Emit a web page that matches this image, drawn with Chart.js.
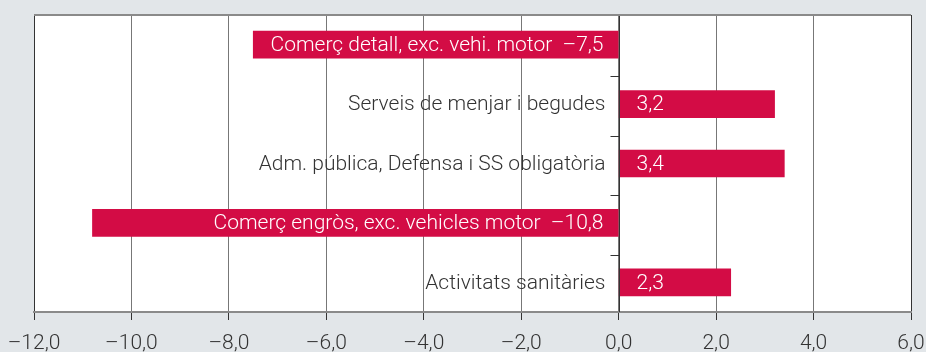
<!DOCTYPE html>
<html>
<head>
<meta charset="utf-8">
<script src="https://cdn.jsdelivr.net/npm/chart.js@4/dist/chart.umd.min.js"></script>
<style>
  html, body { margin: 0; padding: 0; background: #e2e6e9; }
  #wrap { width: 926px; height: 352px; }
</style>
</head>
<body>
<div id="wrap"><canvas id="barCanvas" width="926" height="352"></canvas></div>
<script>
const barCanvas = document.getElementById("barCanvas");

// data
var categories = [
  "Comerç detall, exc. vehi. motor",
  "Serveis de menjar i begudes",
  "Adm. pública, Defensa i SS obligatòria",
  "Comerç engròs, exc. vehicles motor",
  "Activitats sanitàries"
];
var values = [-7.5, 3.2, 3.4, -10.8, 2.3];
var xTicks = [-12, -10, -8, -6, -4, -2, 0, 2, 4, 6];

var barColor = "#d30c45";
var fontName = "Roboto, 'Liberation Sans', sans-serif";

function fmt(v) {
  var s = Math.abs(v).toFixed(1).replace(".", ",");
  return v < 0 ? "\u2013" + s : s;
}

// white plot area + top line
const plotBack = {
  id: "plotBack",
  beforeDraw(chart) {
    const a = chart.chartArea, ctx = chart.ctx;
    ctx.save();
    ctx.fillStyle = "#ffffff";
    ctx.fillRect(a.left, a.top, a.right - a.left, a.bottom - a.top);
    ctx.restore();
  },
  afterDraw(chart) {
    const a = chart.chartArea, ctx = chart.ctx;
    ctx.save();
    ctx.strokeStyle = "#8a8a8a";
    ctx.lineWidth = 2;
    ctx.beginPath();
    ctx.moveTo(a.left, a.top);
    ctx.lineTo(a.right, a.top);
    ctx.stroke();
    ctx.restore();
  }
};

// zero line, its ticks, and the labels
const barLabels = {
  id: "barLabels",
  afterDatasetsDraw(chart) {
    const ctx = chart.ctx, x = chart.scales.x, y = chart.scales.y;
    const x0 = Math.round(x.getPixelForValue(0)) + 0.5;
    ctx.save();
    ctx.strokeStyle = "#333333";
    ctx.lineWidth = 1;
    ctx.beginPath();
    ctx.moveTo(x0, chart.chartArea.top);
    ctx.lineTo(x0, chart.chartArea.bottom);
    for (let i = 0; i < categories.length - 1; i++) {
      const yb = Math.round((y.getPixelForValue(i) + y.getPixelForValue(i + 1)) / 2) + 2.5;
      ctx.moveTo(x0 - 9, yb);
      ctx.lineTo(x0, yb);
    }
    ctx.stroke();

    ctx.font = "300 21px " + fontName;
    ctx.textBaseline = "middle";
    for (let i = 0; i < categories.length; i++) {
      const yc = y.getPixelForValue(i) + 1;
      if (values[i] < 0) {
        ctx.fillStyle = "#ffffff";
        ctx.textAlign = "right";
        ctx.fillText(categories[i] + "  " + fmt(values[i]), x0 - 16, yc);
      } else {
        ctx.fillStyle = "#333333";
        ctx.textAlign = "right";
        ctx.fillText(categories[i], x0 - 14, yc);
        ctx.fillStyle = "#ffffff";
        ctx.textAlign = "left";
        ctx.fillText(fmt(values[i]), x0 + 17, yc);
      }
    }
    ctx.restore();
  }
};

new Chart(barCanvas, {
  type: "bar",
  data: {
    labels: categories,
    datasets: [{
      data: values,
      backgroundColor: barColor,
      barThickness: 27
    }]
  },
  options: {
    indexAxis: "y",
    responsive: false,
    animation: false,
    layout: { padding: { left: 34, right: 15, top: 15, bottom: 0 } },
    plugins: {
      legend: { display: false },
      tooltip: { enabled: false }
    },
    scales: {
      x: {
        min: -12,
        max: 6,
        afterBuildTicks(axis) {
          axis.ticks = xTicks.map(v => ({ value: v }));
        },
        afterFit(axis) {
          axis.paddingLeft = 0;
          axis.paddingRight = 0;
          axis.height = 40;
        },
        border: { color: "#8a8a8a", width: 2 },
        grid: {
          color(c) {
            const v = c.tick ? c.tick.value : null;
            return (v === -12 || v === 6) ? "#333333" : "#777777";
          },
          tickColor: "#333333",
          tickLength: 8
        },
        ticks: {
          padding: 13,
          color: "#333333",
          font: { family: fontName, size: 21, weight: "300", lineHeight: 1 },
          callback: v => fmt(v)
        }
      },
      y: {
        display: false,
        grid: { display: false }
      }
    }
  },
  plugins: [plotBack, barLabels]
});
</script>
</body>
</html>
